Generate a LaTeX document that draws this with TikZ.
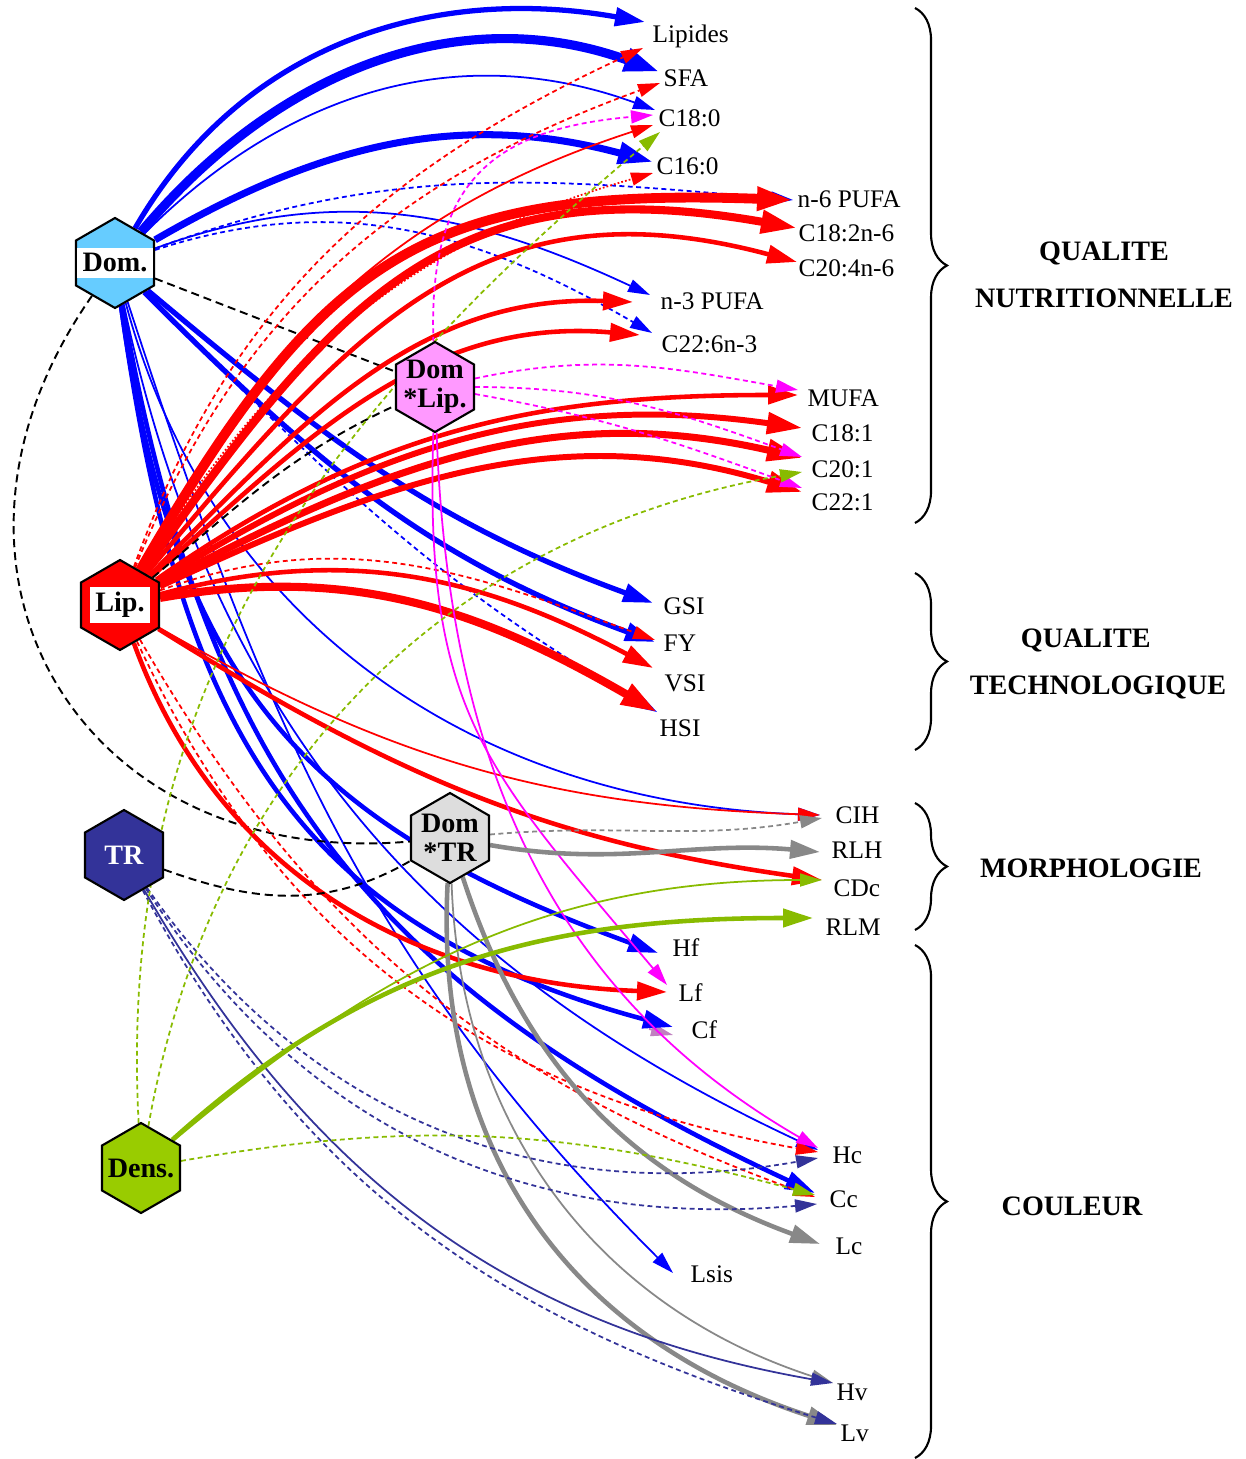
\documentclass[tikz,border=0pt]{standalone}
\usepackage{fontspec}
\setmainfont{Liberation Serif}
\usepackage{tikz}
\usetikzlibrary{arrows.meta, shapes.geometric, decorations.pathreplacing, backgrounds}
\definecolor{cdom}{HTML}{66CCFF}
\definecolor{cdlip}{HTML}{FF99FF}
\definecolor{ctr}{HTML}{333399}
\definecolor{cdtr}{HTML}{DDDDDD}
\definecolor{cdens}{HTML}{99CC00}
\definecolor{lnblue}{HTML}{0000FF}
\definecolor{lnred}{HTML}{FF0000}
\definecolor{lnmag}{HTML}{FF00FF}
\definecolor{lngreen}{HTML}{88BB00}
\definecolor{lngray}{HTML}{888888}
\definecolor{lnmauve}{HTML}{C080C0}
\setlength{\fboxsep}{1.5pt}

\begin{document}
\begin{tikzpicture}[
    hexa/.style={regular polygon, regular polygon sides=6, shape border rotate=30,
                 draw=black, line width=0.6pt, minimum size=0.9cm, inner sep=0pt},
    hxt/.style={font=\bfseries\fontsize{8}{8.3}\selectfont, align=center, inner sep=0pt},
    lab/.style={anchor=west, inner sep=0pt, font=\fontsize{7.2}{8}\selectfont},
    grp/.style={font=\bfseries\fontsize{8}{13.5}\selectfont, align=center},
    e1/.style={line width=0.5pt, -{Triangle[length=2.2mm, width=1.3mm]}},
    e2/.style={line width=1.3pt, -{Triangle[length=3mm, width=1.8mm]}},
    e3/.style={line width=2pt, -{Triangle[length=3.5mm, width=2.1mm]}},
    e4/.style={line width=2.6pt, -{Triangle[length=3.6mm, width=2.2mm]}},
    dsh/.style={dash pattern=on 1.4pt off 1pt},
    dotline/.style={dash pattern=on 0.5pt off 0.6pt},
    blk/.style={black, line width=0.55pt, dash pattern=on 2.3pt off 1.4pt},
    brc/.style={decorate, decoration={brace, amplitude=0.32cm}, line width=0.6pt}]
  \useasboundingbox (0,0) rectangle (12.45,-14.59);

  % factors
  \node[hexa, fill=cdom, label={[hxt]center:\colorbox{white}{Dom.}}] (dom) at (1.15,-2.63) {};
  \node[hexa, fill=cdlip, label={[hxt]center:Dom\\*Lip.}] (dlip) at (4.35,-3.87) {};
  \node[hexa, fill=red, label={[hxt]center:\colorbox{white}{Lip.}}] (lip) at (1.20,-6.05) {};
  \node[hexa, fill=ctr, label={[hxt, text=white]center:TR}] (tr) at (1.24,-8.55) {};
  \node[hexa, fill=cdtr, label={[hxt]center:Dom\\*TR}] (dtr) at (4.50,-8.38) {};
  \node[hexa, fill=cdens, label={[hxt]center:Dens.}] (dens) at (1.41,-11.68) {};

  % traits
  \node[lab] (lipides) at (6.52,-0.36) {Lipides};
  \node[lab] (sfa) at (6.63,-0.78) {SFA};
  \node[lab] (c180) at (6.58,-1.18) {C18:0};
  \node[lab] (c160) at (6.56,-1.66) {C16:0};
  \node[lab] (n6) at (7.97,-1.99) {n-6 PUFA};
  \node[lab] (c182) at (7.98,-2.33) {C18:2n-6};
  \node[lab] (c204) at (7.98,-2.68) {C20:4n-6};
  \node[lab] (n3) at (6.60,-3.01) {n-3 PUFA};
  \node[lab] (c226) at (6.61,-3.44) {C22:6n-3};
  \node[lab] (mufa) at (8.07,-3.98) {MUFA};
  \node[lab] (c181) at (8.11,-4.33) {C18:1};
  \node[lab] (c201) at (8.11,-4.69) {C20:1};
  \node[lab] (c221) at (8.11,-5.02) {C22:1};
  \node[lab] (gsi) at (6.63,-6.06) {GSI};
  \node[lab] (fy) at (6.63,-6.43) {FY};
  \node[lab] (vsi) at (6.64,-6.83) {VSI};
  \node[lab] (hsi) at (6.59,-7.28) {HSI};
  \node[lab] (cih) at (8.35,-8.15) {CIH};
  \node[lab] (rlh) at (8.31,-8.50) {RLH};
  \node[lab] (cdc) at (8.33,-8.88) {CDc};
  \node[lab] (rlm) at (8.25,-9.27) {RLM};
  \node[lab] (hf) at (6.72,-9.48) {Hf};
  \node[lab] (lf) at (6.78,-9.93) {Lf};
  \node[lab] (cf) at (6.91,-10.30) {Cf};
  \node[lab] (hc) at (8.32,-11.55) {Hc};
  \node[lab] (cc) at (8.29,-11.99) {Cc};
  \node[lab] (lc) at (8.35,-12.46) {Lc};
  \node[lab] (lsis) at (6.90,-12.74) {Lsis};
  \node[lab] (hv) at (8.36,-13.92) {Hv};
  \node[lab] (lv) at (8.40,-14.33) {Lv};
  \coordinate (cfm) at ([shift={(-0.42,0.01)}]cf.west);

  \begin{scope}[on background layer]
    % Dom.
    \draw[e2, lnblue, line width=1.5pt] (dom) to[out=60, in=170] ([shift={(-0.07,0.14)}]lipides.west);
    \draw[e4, lnblue] (dom) to[out=50, in=160] ([shift={(-0.03,0.06)}]sfa.west);
    \draw[e1, lnblue] (dom) to[out=45, in=160] ([shift={(-0.03,0.08)}]c180.west);
    \draw[e3, lnblue] (dom) to[out=30, in=165] ([shift={(-0.03,0.04)}]c160.west);
    \draw[e1, lnblue, dsh] (dom) to[out=20, in=175] ([shift={(-0.04,-0.01)}]n6.west);
    \draw[e1, lnblue] (dom) to[out=20, in=155] ([shift={(-0.10,0.06)}]n3.west);
    \draw[e1, lnblue, dsh] (dom) to[out=18, in=150] ([shift={(-0.09,0.11)}]c226.west);
    \draw[e2, lnblue, line width=1.5pt] (dom) to[out=-40, in=160] ([shift={(-0.10,0.03)}]gsi.west);
    \draw[e2, lnblue, line width=1.5pt] (dom) to[out=-45, in=160] ([shift={(-0.08,0.01)}]fy.west);
    \draw[e1, lnblue, dsh] (dom) to[out=-45, in=150] ([shift={(-0.02,0.16)}]hsi.west);
    \draw[e1, lnblue] (dom) to[out=-75, in=178] ([shift={(-0.15,0)}]cih.west);
    \draw[e2, lnblue] (dom) to[out=-82, in=160, looseness=1.15] ([shift={(-0.14,-0.05)}]hf.west);
    \draw[e1, lnmauve] (cfm) -- ([shift={(-0.18,-0.05)}]cf.west);
    \draw[e2, lnblue] (dom) to[out=-82, in=165, looseness=1.15] ([shift={(-0.18,0.03)}]cf.west);
    \draw[e2, lnblue] (dom) to[out=-80, in=155, looseness=1.1] ([shift={(-0.14,0.06)}]cc.west);
    \draw[e1, lnblue] (dom) to[out=-78, in=155] ([shift={(-0.14,0.05)}]hc.west);
    \draw[e1, lnblue] (dom) to[out=-72, in=135] ([shift={(-0.17,0.01)}]lsis.west);
    \draw[blk] (dom) -- (dlip);
    \draw[blk] (dom) to[out=235, in=185, looseness=1.35] (dtr);
    % Lip.
    \draw[e1, lnred, dsh] (lip) to[out=70, in=205] ([shift={(-0.09,-0.12)}]lipides.west);
    \draw[e1, lnred, dsh] (lip) to[out=68, in=200] ([shift={(-0.03,-0.05)}]sfa.west);
    \draw[e1, lnred] (lip) to[out=62, in=198] ([shift={(-0.05,-0.07)}]c180.west);
    \draw[e1, lnred, dotline] (lip) to[out=58, in=196] ([shift={(-0.03,-0.07)}]c160.west);
    \draw[e4, lnred, line width=2.8pt] (lip) to[out=60, in=178, looseness=1.25] ([shift={(-0.04,-0.01)}]n6.west);
    \draw[e4, lnred, line width=2.3pt] (lip) to[out=55, in=170, looseness=1.2] ([shift={(-0.01,0.05)}]c182.west);
    \draw[e2, lnred] (lip) to[out=50, in=165, looseness=1.15] ([shift={(-0.01,0.06)}]c204.west);
    \draw[e2, lnred] (lip) to[out=45, in=178] ([shift={(-0.27,-0.01)}]n3.west);
    \draw[e2, lnred] (lip) to[out=42, in=175] ([shift={(-0.21,0.09)}]c226.west);
    \draw[e2, lnred] (lip) to[out=35, in=180] ([shift={(-0.09,0.03)}]mufa.west);
    \draw[e3, lnred, line width=1.7pt] (lip) to[out=32, in=172] ([shift={(-0.09,0.05)}]c181.west);
    \draw[e3, lnred] (lip) to[out=28, in=167] ([shift={(-0.09,0.11)}]c201.west);
    \draw[e3, lnred, line width=1.7pt] (lip) to[out=25, in=163] ([shift={(-0.09,0.10)}]c221.west);
    \draw[e1, lnred, dsh] (lip) to[out=20, in=160] ([shift={(-0.08,0.03)}]fy.west);
    \draw[e2, lnred] (lip) to[out=15, in=152] ([shift={(-0.11,0.15)}]vsi.west);
    \draw[e4, lnred, line width=2.3pt] (lip) to[out=10, in=150] ([shift={(-0.02,0.16)}]hsi.west);
    \draw[e1, lnred] (lip) to[out=-30, in=178] ([shift={(-0.15,0)}]cih.west);
    \draw[e2, lnred] (lip) to[out=-32, in=172] ([shift={(-0.11,0.08)}]cdc.west);
    \draw[e2, lnred] (lip) to[out=-70, in=178] ([shift={(-0.11,0.01)}]lf.west);
    \draw[e1, lnred, dsh] (lip) to[out=-65, in=170] ([shift={(-0.14,0.03)}]hc.west);
    \draw[e1, lnred, dsh] (lip) to[out=-60, in=160] ([shift={(-0.14,0.02)}]cc.west);
    \draw[blk] (lip) to[out=40, in=205] (dlip);
    % Dom*Lip.
    \draw[e1, lnmag, dsh] (dlip) to[out=92, in=185, looseness=1.3] ([shift={(-0.05,0.03)}]c180.west);
    \draw[e1, lnmag, dsh] (dlip) to[out=12, in=170] ([shift={(-0.09,0.08)}]mufa.west);
    \draw[e1, lnmag, dsh] (dlip) to[out=0, in=160] ([shift={(-0.09,0.12)}]c201.west);
    \draw[e1, lnmag, dsh] (dlip) to[out=-10, in=160] ([shift={(-0.09,0.14)}]c221.west);
    \draw[e1, lnmag] (dlip) to[out=-92, in=130, looseness=1.2] ([shift={(-0.11,0.08)}]lf.west);
    \draw[e1, lnmag] (dlip) to[out=-88, in=150] ([shift={(-0.14,0.07)}]hc.west);
    % Dom*TR
    \draw[e1, lngray, dsh] (dtr) to[out=5, in=190] ([shift={(-0.13,-0.03)}]cih.west);
    \draw[e2, lngray] (dtr) to[out=-10, in=175] ([shift={(-0.11,-0.02)}]rlh.west);
    \draw[e2, lngray] (dtr) to[out=-72, in=160] ([shift={(-0.15,0.02)}]lc.west);
    \draw[e1, lngray] (dtr) to[out=-88, in=162] ([shift={(-0.03,0.09)}]hv.west);
    \draw[e2, lngray] (dtr) to[out=-93, in=162, looseness=1.05] ([shift={(-0.03,0.08)}]lv.west);
    % TR
    \draw[e1, ctr, dsh] (tr) to[out=-55, in=190] ([shift={(-0.14,-0.03)}]hc.west);
    \draw[e1, ctr, dsh] (tr) to[out=-57, in=185] ([shift={(-0.12,-0.05)}]cc.west);
    \draw[e1, ctr] (tr) to[out=-60, in=170] ([shift={(-0.03,0.09)}]hv.west);
    \draw[e1, ctr, dsh] (tr) to[out=-62, in=163] ([shift={(-0.03,0.09)}]lv.west);
    \draw[blk] (tr) to[out=-20, in=210] (dtr);
    % Dens.
    \draw[e1, lngreen, dsh] (dens) to[out=93, in=220] ([shift={(0.02,-0.14)}]c180.west);
    \draw[e1, lngreen, dsh] (dens) to[out=80, in=190] ([shift={(-0.09,-0.03)}]c201.west);
    \draw[e1, lngreen] (dens) to[out=40, in=180] ([shift={(-0.11,0.08)}]cdc.west);
    \draw[e2, lngreen] (dens) to[out=42, in=180] ([shift={(-0.12,0.09)}]rlm.west);
    \draw[e1, lngreen, dsh] (dens) to[out=10, in=165] ([shift={(-0.14,0.04)}]cc.west);
  \end{scope}

  % groups
  \draw[brc] (9.15,-0.08) -- (9.15,-5.23);
  \draw[brc] (9.15,-5.73) -- (9.15,-7.50);
  \draw[brc] (9.15,-8.03) -- (9.15,-9.30);
  \draw[brc] (9.15,-9.45) -- (9.15,-14.58);
  \node[grp] (nutri) at (11.04,-2.75) {QUALITE\\NUTRITIONNELLE};
  \node[grp] (techno) at (10.98,-6.64) {QUALITE\hspace*{7pt}\\TECHNOLOGIQUE};
  \node[grp] (morpho) at (10.91,-8.68) {MORPHOLOGIE};
  \node[grp] (coul) at (10.72,-12.06) {COULEUR};
\end{tikzpicture}
\end{document}
